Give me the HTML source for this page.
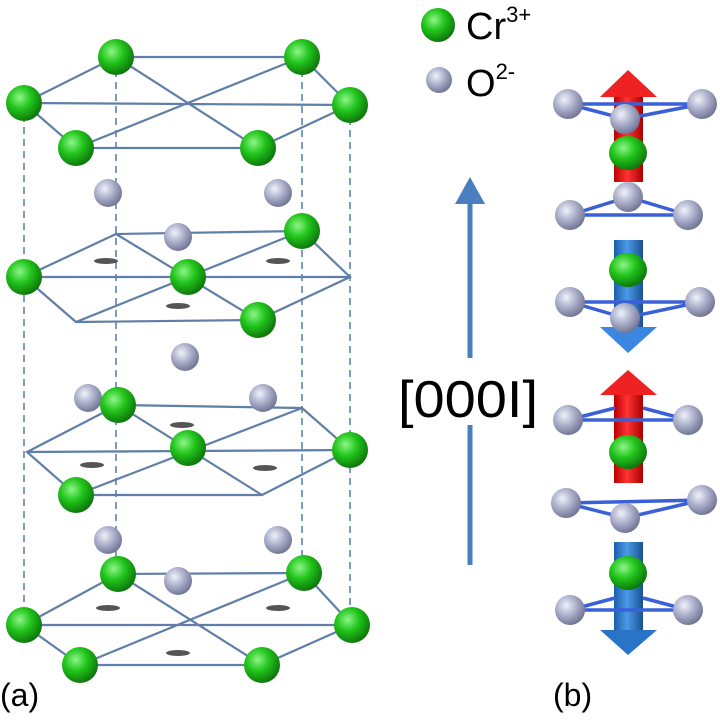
<!DOCTYPE html>
<html><head><meta charset="utf-8"><style>body{margin:0;background:#fff}svg{display:block}</style></head>
<body>
<svg width="720" height="722" viewBox="0 0 720 722" xmlns="http://www.w3.org/2000/svg">
<defs>
<radialGradient id="g" cx="0.38" cy="0.35" r="0.7"><stop offset="0" stop-color="#8ff58a"/><stop offset="0.45" stop-color="#22c61c"/><stop offset="1" stop-color="#0b6f0a"/></radialGradient>
<radialGradient id="o" cx="0.38" cy="0.35" r="0.7"><stop offset="0" stop-color="#f0f2fa"/><stop offset="0.5" stop-color="#a9adc8"/><stop offset="1" stop-color="#6c7090"/></radialGradient>
<linearGradient id="red" x1="0" x2="1"><stop offset="0" stop-color="#b00"/><stop offset="0.45" stop-color="#f33"/><stop offset="1" stop-color="#a00"/></linearGradient>
<linearGradient id="blu" x1="0" x2="1"><stop offset="0" stop-color="#1a5fa8"/><stop offset="0.45" stop-color="#4a9ae8"/><stop offset="1" stop-color="#1a5090"/></linearGradient>
</defs>
<g stroke="#6f8fb8" stroke-width="1.8" stroke-dasharray="7,5">
<line x1="24" y1="115" x2="24" y2="612"/><line x1="116" y1="70" x2="116" y2="565"/><line x1="302" y1="70" x2="302" y2="565"/><line x1="350" y1="118" x2="350" y2="612"/>
</g>
<g stroke="#5f7fa8" stroke-width="2.2" fill="none">
<path d="M116,57 L302,57 L350,105 L258,148 L76,148 L24,103 Z"/><path d="M24,103 L350,105 M76,148 L302,57 M116,57 L258,148"/>
<path d="M116,234 L302,231 L350,277 L258,320 L76,322 L24,277 Z"/><path d="M24,277 L350,277 M76,322 L302,231 M116,234 L258,320"/>
<path d="M118,405 L302,408 L350,450 L262,495 L76,495 L27,452 Z"/><path d="M27,452 L350,450 M76,495 L302,408 M118,405 L262,495"/>
<path d="M118,574 L304,573 L352,625 L262,665 L80,665 L24,625 Z"/><path d="M24,625 L352,625 M80,665 L304,573 M118,574 L262,665"/>
</g>
<g fill="#555">
<ellipse cx="106" cy="261" rx="12" ry="3"/><ellipse cx="278" cy="261" rx="12" ry="3"/><ellipse cx="178" cy="306" rx="12" ry="3"/>
<ellipse cx="182" cy="425" rx="12" ry="3"/><ellipse cx="92" cy="465" rx="12" ry="3"/><ellipse cx="265" cy="468" rx="12" ry="3"/>
<ellipse cx="108" cy="608" rx="12" ry="3"/><ellipse cx="278" cy="608" rx="12" ry="3"/><ellipse cx="178" cy="653" rx="12" ry="3"/>
</g>
<g fill="url(#o)">
<circle cx="108" cy="193" r="14"/><circle cx="278" cy="193" r="14"/><circle cx="178" cy="237" r="14"/><circle cx="185" cy="357" r="14"/>
<circle cx="88" cy="398" r="14"/><circle cx="263" cy="398" r="14"/><circle cx="108" cy="540" r="14"/><circle cx="278" cy="540" r="14"/><circle cx="178" cy="581" r="14"/>
</g>
<g fill="url(#g)">
<circle cx="116" cy="57" r="18"/><circle cx="302" cy="57" r="18"/><circle cx="24" cy="103" r="18"/><circle cx="350" cy="105" r="18"/><circle cx="76" cy="148" r="18"/><circle cx="258" cy="148" r="18"/>
<circle cx="24" cy="277" r="18"/><circle cx="302" cy="231" r="18"/><circle cx="188" cy="277" r="18"/><circle cx="258" cy="320" r="18"/>
<circle cx="118" cy="405" r="18"/><circle cx="188" cy="448" r="18"/><circle cx="350" cy="450" r="18"/><circle cx="76" cy="495" r="18"/>
<circle cx="118" cy="574" r="18"/><circle cx="304" cy="573" r="18"/><circle cx="24" cy="625" r="18"/><circle cx="352" cy="625" r="18"/><circle cx="80" cy="665" r="18"/><circle cx="262" cy="665" r="18"/>
</g>
<text x="0" y="706" font-family="Liberation Sans, sans-serif" font-size="32">(a)</text>
<circle cx="438" cy="25" r="17" fill="url(#g)"/>
<text x="466" y="39" font-family="Liberation Sans, sans-serif" font-size="38">Cr<tspan font-size="22" dy="-17">3+</tspan></text>
<circle cx="439" cy="80" r="13" fill="url(#o)"/>
<text x="466" y="96" font-family="Liberation Sans, sans-serif" font-size="38">O<tspan font-size="22" dy="-17">2-</tspan></text>
<g stroke="#4a7fbf" stroke-width="5"><line x1="470" y1="200" x2="470" y2="358"/><line x1="470" y1="425" x2="470" y2="565"/></g>
<polygon points="470,177 455,204 485,204" fill="#4a7fbf"/>
<text x="398" y="417" font-family="Liberation Sans, sans-serif" font-size="52" textLength="140" lengthAdjust="spacingAndGlyphs">[000I]</text>
<!-- (b) column -->
<rect x="614" y="95" width="29" height="87" fill="url(#red)"/><polygon points="628,70 600,97 657,97" fill="#e22"/>
<rect x="614" y="240" width="29" height="89" fill="url(#blu)"/><polygon points="628,353 600,327 657,327" fill="#3a86e0"/>
<rect x="614" y="393" width="29" height="90" fill="url(#red)"/><polygon points="628,370 600,395 657,395" fill="#e22"/>
<rect x="614" y="542" width="29" height="90" fill="url(#blu)"/><polygon points="628,655 600,630 657,630" fill="#2a74c8"/>
<g stroke="#3a60d8" stroke-width="3.5" fill="none">
<path d="M568,104 L702,104 L625,119 Z"/><path d="M570,215 L688,215 L628,197 Z"/>
<path d="M570,302 L700,302 L625,318 Z"/><path d="M568,420 L688,420"/><path d="M568,420 L615,408 M688,420 L643,408"/>
<path d="M566,503 L702,500 L625,518 Z"/><path d="M570,610 L688,610"/><path d="M570,610 L615,598 M688,610 L643,598"/>
</g>
<g fill="url(#o)">
<circle cx="568" cy="104" r="15"/><circle cx="702" cy="104" r="15"/><circle cx="625" cy="119" r="15"/>
<circle cx="628" cy="197" r="15"/><circle cx="570" cy="215" r="15"/><circle cx="688" cy="215" r="15"/>
<circle cx="570" cy="302" r="15"/><circle cx="700" cy="302" r="15"/><circle cx="625" cy="318" r="15"/>
<circle cx="568" cy="420" r="15"/><circle cx="688" cy="420" r="15"/>
<circle cx="566" cy="503" r="15"/><circle cx="702" cy="500" r="15"/><circle cx="625" cy="518" r="15"/>
<circle cx="570" cy="610" r="15"/><circle cx="688" cy="610" r="15"/>
</g>
<g fill="url(#g)">
<ellipse cx="628" cy="153" rx="19" ry="17"/><ellipse cx="628" cy="270" rx="19" ry="17"/><ellipse cx="628" cy="452" rx="19" ry="17"/><ellipse cx="628" cy="573" rx="19" ry="17"/>
</g>
<text x="553" y="706" font-family="Liberation Sans, sans-serif" font-size="32">(b)</text>
</svg>
</body></html>
